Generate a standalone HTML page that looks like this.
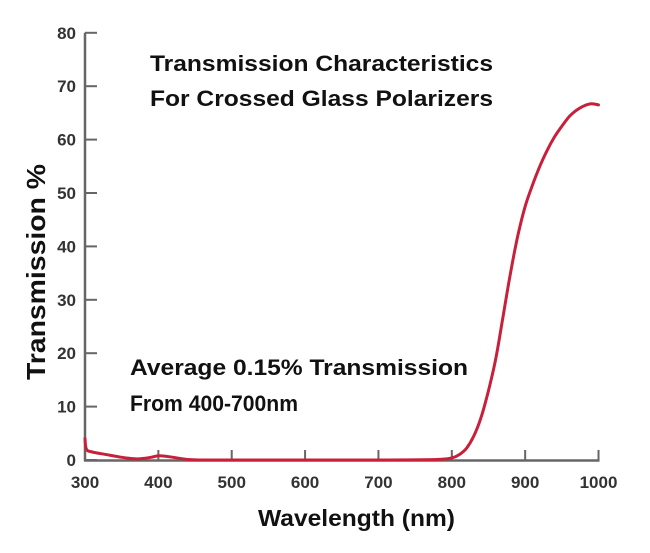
<!DOCTYPE html>
<html><head><meta charset="utf-8"><style>
body{margin:0;background:#fff;width:650px;height:548px;overflow:hidden}
text{font-family:"Liberation Sans",sans-serif;font-weight:bold}
</style></head><body>
<svg id="chart" width="650" height="548" viewBox="0 0 650 548" xmlns="http://www.w3.org/2000/svg">
<text x="150" y="71" font-size="22.5" textLength="343" lengthAdjust="spacingAndGlyphs" fill="#111">Transmission Characteristics</text>
<text x="150" y="106" font-size="22.5" textLength="343" lengthAdjust="spacingAndGlyphs" fill="#111">For Crossed Glass Polarizers</text>
<text x="130" y="375" font-size="22.5" textLength="338" lengthAdjust="spacingAndGlyphs" fill="#111">Average 0.15% Transmission</text>
<text x="130" y="411" font-size="22.5" textLength="168" lengthAdjust="spacingAndGlyphs" fill="#111">From 400-700nm</text>
<text transform="translate(45,272) rotate(-90)" font-size="26" text-anchor="middle" textLength="216" lengthAdjust="spacingAndGlyphs" fill="#111">Transmission %</text>
<text x="258" y="526" font-size="23" textLength="197" lengthAdjust="spacingAndGlyphs" fill="#111">Wavelength (nm)</text>
<g id="axes"></g>
<path id="curve" fill="none" stroke="#c8203a" stroke-width="3" stroke-linejoin="round" stroke-linecap="round"/>
</svg>
<script>
const xTicks=[300,400,500,600,700,800,900,1000];
const yTicks=[0,10,20,30,40,50,60,70,80];
const wavelengths=[300,302,310,330,350,370,390,400,410,420,440,460,480,500,600,700,780,800,810,820,830,840,850,860,870,880,890,900,910,920,930,940,950,960,970,980,990,1000];
const transmission=[4,2,1.5,1.0,0.5,0.2,0.5,0.8,0.7,0.5,0.1,0,0,0,0,0,0.1,0.4,1,2.2,4.5,8,13,19,27,35,42,47.5,51.5,55,58,60.5,62.5,64.3,65.5,66.3,66.7,66.5];
function xs(v){return 85+(v-300)*0.7336;}
function ys(v){return 460-v*5.34;}
const NS="http://www.w3.org/2000/svg";
const axes=document.getElementById('axes');
function mk(t,a){const e=document.createElementNS(NS,t);for(const k in a)e.setAttribute(k,a[k]);axes.appendChild(e);return e;}
let e=mk('line',{x1:85,y1:ys(80),x2:85,y2:461,stroke:'#666','stroke-width':2.5});


e=mk('line',{x1:84,y1:460.5,x2:xs(1000)+1,y2:460.5,stroke:'#666','stroke-width':2.5});


yTicks.forEach(v=>{
 let t=mk('line',{x1:85,y1:ys(v),x2:97,y2:ys(v),stroke:'#666','stroke-width':2});
 
 
 let l=mk('text',{x:76,y:ys(v)+6,'font-size':17,'text-anchor':'end',fill:'#333'});
 l.textContent=v;
 
 
});
xTicks.forEach(v=>{
 let t=mk('line',{x1:xs(v),y1:460,x2:xs(v),y2:450,stroke:'#666','stroke-width':2});
 
 
 let l=mk('text',{x:xs(v),y:488,'font-size':17,'text-anchor':'middle',fill:'#333'});
 l.textContent=v;
 
 
});
const P=wavelengths.map((w,i)=>[xs(w),ys(transmission[i])]);
let d='M'+P[0][0].toFixed(1)+','+P[0][1].toFixed(1);
for(let i=0;i<P.length-1;i++){
 const p0=P[Math.max(i-1,0)],p1=P[i],p2=P[i+1],p3=P[Math.min(i+2,P.length-1)];
 const c1=[p1[0]+(p2[0]-p0[0])/6,p1[1]+(p2[1]-p0[1])/6];
 const c2=[p2[0]-(p3[0]-p1[0])/6,p2[1]-(p3[1]-p1[1])/6];
 d+='C'+c1.map(n=>n.toFixed(1)).join(',')+' '+c2.map(n=>n.toFixed(1)).join(',')+' '+p2.map(n=>n.toFixed(1)).join(',');
}
document.getElementById('curve').setAttribute('d',d);
</script>
</body></html>
